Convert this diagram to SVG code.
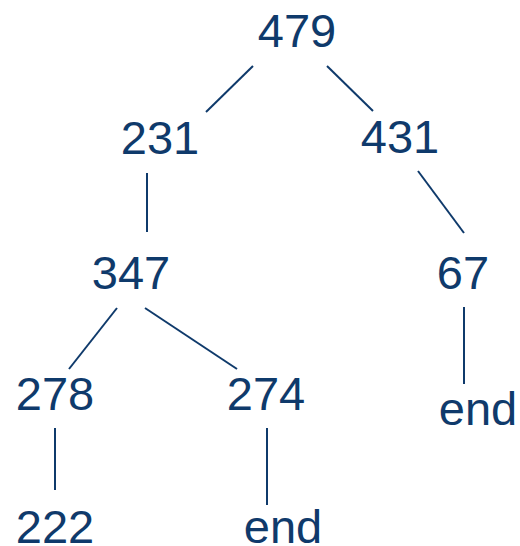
<svg xmlns="http://www.w3.org/2000/svg" width="520" height="546" viewBox="0 0 520 546">
<style>
text{font-family:"Liberation Sans",Arial,sans-serif;font-size:47px;fill:#0f3a6b;text-anchor:middle}
line{stroke:#0f3a6b;stroke-width:2;fill:none}
</style>
<rect width="520" height="546" fill="#fff"/>
<g id="connectors">
<line x1="253" y1="66" x2="206" y2="112"/>
<line x1="327" y1="66" x2="373" y2="111"/>
<line x1="147" y1="173" x2="147" y2="232"/>
<line x1="418" y1="171" x2="464" y2="233"/>
<line x1="464" y1="307" x2="464" y2="384"/>
<line x1="117" y1="308" x2="69" y2="369"/>
<line x1="145" y1="308" x2="237" y2="369"/>
<line x1="55" y1="428" x2="55" y2="490"/>
<line x1="267" y1="428" x2="267" y2="505"/>
</g>
<g id="n479"><text x="297" y="47">479</text></g>
<g id="n231"><text x="160" y="154">231</text></g>
<g id="n431"><text x="400" y="153">431</text></g>
<g id="n347"><text x="131" y="289">347</text></g>
<g id="n67"><text x="463" y="289">67</text></g>
<g id="n278"><text x="55" y="410">278</text></g>
<g id="n274"><text x="266" y="410">274</text></g>
<g id="nend1"><text x="478" y="425">end</text></g>
<g id="n222"><text x="55" y="543">222</text></g>
<g id="nend2"><text x="283" y="543">end</text></g>
</svg>
